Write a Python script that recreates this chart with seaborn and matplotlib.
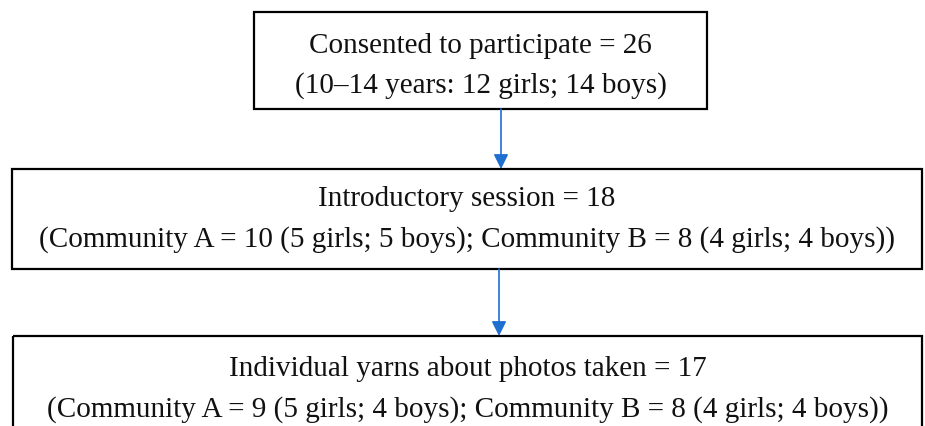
import matplotlib
matplotlib.use('Agg')
import matplotlib.pyplot as plt
import seaborn as sns
from matplotlib.patches import Rectangle

# flowchart contents
stage_titles = ["Consented to participate = 26",
                "Introductory session = 18",
                "Individual yarns about photos taken = 17"]
stage_details = ["(10\u201314 years: 12 girls; 14 boys)",
                 "(Community A = 10 (5 girls; 5 boys); Community B = 8 (4 girls; 4 boys))",
                 "(Community A = 9 (5 girls; 4 boys); Community B = 8 (4 girls; 4 boys))"]

# box geometry in pixels (left, top, right, bottom)
boxes = [(254, 12, 707, 109), (12, 169, 922, 269), (13, 336, 922, 432)]
line_y = [(46, 86), (199, 240), (369, 410)]
arrow_x = [501, 499]

sns.set_theme(style="white")
plt.rcParams['font.family'] = ['Liberation Serif', 'DejaVu Serif']

fig = plt.figure(figsize=(9.25, 4.26), dpi=100)
ax = fig.add_axes([0, 0, 1, 1])
ax.set_xlim(0, 925)
ax.set_ylim(426, 0)
ax.axis('off')

for (l, t, r, b), title, detail, (y1, y2) in zip(boxes, stage_titles, stage_details, line_y):
    ax.add_patch(Rectangle((l, t), r - l, b - t, fill=False, edgecolor='black', linewidth=1.6))
    cx = (l + r) / 2
    ax.text(cx, y1, title, ha='center', va='center', fontsize=21, color='#111111')
    ax.text(cx, y2, detail, ha='center', va='center', fontsize=21, color='#111111')

for i, x in enumerate(arrow_x):
    y_start = boxes[i][3]
    y_end = boxes[i + 1][1]
    ax.annotate('', xy=(x, y_end), xytext=(x, y_start),
                arrowprops=dict(arrowstyle='-|>', color='#1f6fd1', lw=1.2,
                                mutation_scale=22, shrinkA=0, shrinkB=0))

fig.savefig('out.png', dpi=100)
